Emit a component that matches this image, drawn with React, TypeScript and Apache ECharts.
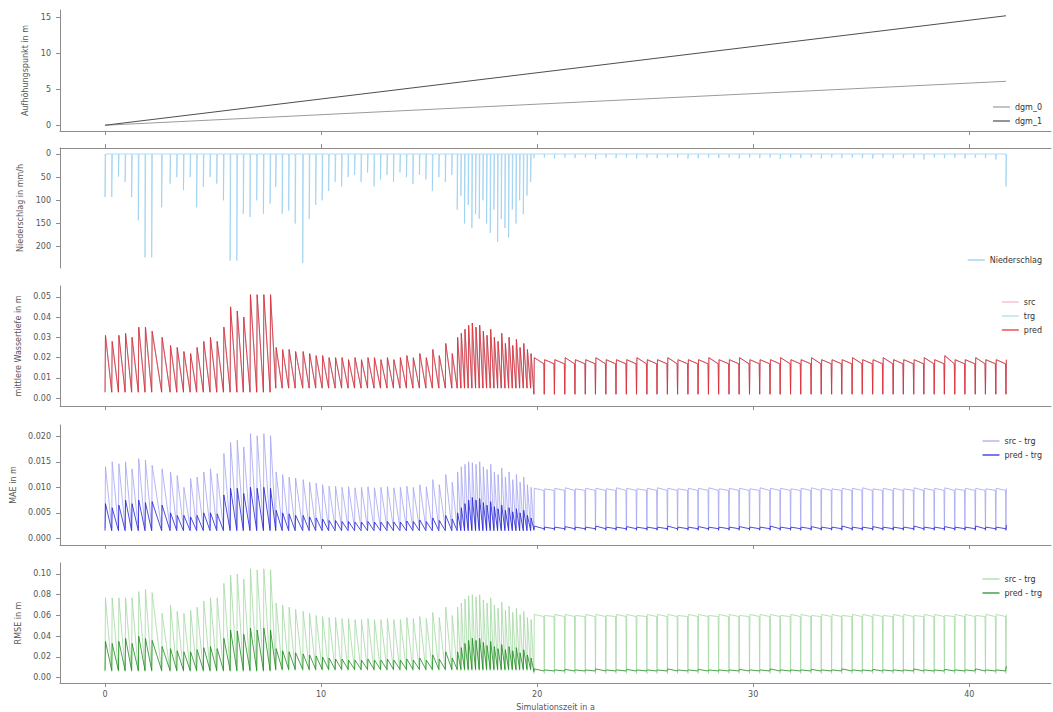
import React, { useEffect, useRef } from 'react';
import * as echarts from 'echarts';

// ---------- data ----------
const eventTimes = [
  // phase 1
  0, 0.31, 0.62, 0.93, 1.23, 1.54, 1.85, 2.16, 2.62, 3.01, 3.32, 3.63, 3.94, 4.24, 4.55, 4.86, 5.17, 5.48, 5.79, 6.1, 6.4, 6.71, 7.02, 7.33, 7.64,
  // phase 2
  7.9, 8.2, 8.5, 8.8, 9.15, 9.45, 9.75, 10.05, 10.35, 10.65, 10.95, 11.25, 11.55, 11.85, 12.15, 12.45, 12.75, 13.05, 13.35, 13.65, 13.95, 14.25, 14.55, 14.85, 15.15, 15.45, 15.75, 16.05,
  // phase 3
  16.3, 16.47, 16.64, 16.81, 16.98, 17.15, 17.32, 17.49, 17.66, 17.83, 18.0, 18.17, 18.34, 18.51, 18.68, 18.85, 19.02, 19.19, 19.36, 19.53, 19.7,
  // phase 4
  19.85, 20.33, 20.8, 21.28, 21.75, 22.23, 22.7, 23.18, 23.65, 24.13, 24.6, 25.08, 25.55, 26.03, 26.5, 26.98, 27.45, 27.93, 28.4, 28.88,
  29.35, 29.83, 30.3, 30.78, 31.25, 31.73, 32.2, 32.68, 33.15, 33.63, 34.1, 34.58, 35.05, 35.53, 36.0, 36.48, 36.95, 37.43, 37.9, 38.38,
  38.85, 39.33, 39.8, 40.28, 40.75, 41.23, 41.7,
];
const phaseStarts = [0, 7.9, 16.3, 19.85];

const dgm0 = [[0, 0], [41.7, 6.1]];
const dgm1 = [[0, 0], [41.7, 15.2]];

const rainPeak = [
  93, 93, 49, 60, 93, 143, 223, 223, 115, 64, 50, 78, 50, 115, 71, 50, 64, 100, 230, 230, 129, 136, 100, 129, 107,
  71, 129, 122, 150, 235, 140, 110, 100, 80, 60, 70, 50, 45, 60, 40, 70, 55, 45, 60, 40, 50, 65, 45, 55, 80, 50, 60, 45,
  120, 90, 150, 110, 160, 130, 140, 100, 150, 170, 120, 190, 140, 160, 180, 120, 150, 100, 130, 90, 60,
  9, 8, 10, 8, 9, 8, 11, 8, 9, 8, 10, 8, 9, 8, 8, 10, 9, 8, 9, 8,
  10, 8, 9, 8, 11, 8, 9, 8, 10, 8, 9, 8, 9, 10, 8, 9, 8, 9, 12, 8,
  9, 8, 10, 8, 9, 12, 70,
];

const depthPeak = [
  0.031, 0.028, 0.031, 0.032, 0.030, 0.035, 0.035, 0.033, 0.030, 0.026, 0.025, 0.023, 0.022, 0.025, 0.028, 0.030, 0.028, 0.035, 0.045, 0.043, 0.040, 0.051, 0.051, 0.051, 0.051,
  0.025, 0.024, 0.024, 0.023, 0.023, 0.022, 0.021, 0.021, 0.020, 0.020, 0.020, 0.019, 0.020, 0.019, 0.020, 0.020, 0.019, 0.020, 0.019, 0.020, 0.021, 0.020, 0.022, 0.020, 0.024, 0.021, 0.027, 0.022,
  0.030, 0.032, 0.034, 0.036, 0.037, 0.035, 0.036, 0.033, 0.031, 0.034, 0.030, 0.028, 0.032, 0.027, 0.030, 0.026, 0.029, 0.025, 0.027, 0.024, 0.022,
  0.020, 0.019, 0.019, 0.020, 0.019, 0.019, 0.020, 0.019, 0.019, 0.019, 0.020, 0.019, 0.019, 0.020, 0.019, 0.019, 0.019, 0.020, 0.019, 0.019,
  0.020, 0.019, 0.019, 0.019, 0.020, 0.019, 0.019, 0.020, 0.019, 0.019, 0.019, 0.020, 0.019, 0.019, 0.020, 0.019, 0.019, 0.019, 0.020, 0.019,
  0.021, 0.019, 0.019, 0.020, 0.019, 0.019, 0.019,
];
const depthLow = [0.003, 0.005, 0.005, 0.002];
const depthHold = [null, null, null, 0.017];

const maeSrcPeak = [
  0.014, 0.015, 0.0146, 0.015, 0.0136, 0.0156, 0.0153, 0.0143, 0.0136, 0.013, 0.0123, 0.010, 0.0117, 0.012, 0.013, 0.0136, 0.0127, 0.0166, 0.0188, 0.0192, 0.0179, 0.0205, 0.0201, 0.0205, 0.0201,
  0.013, 0.0125, 0.012, 0.0118, 0.0115, 0.011, 0.0108, 0.0105, 0.0102, 0.0102, 0.010, 0.0101, 0.0099, 0.010, 0.0101, 0.0099, 0.010, 0.0101, 0.0099, 0.010, 0.0102, 0.010, 0.0105, 0.0101, 0.0115, 0.0105, 0.0125, 0.011,
  0.013, 0.014, 0.0145, 0.015, 0.0148, 0.0145, 0.015, 0.014, 0.0135, 0.0145, 0.013, 0.0125, 0.0138, 0.012, 0.013, 0.0115, 0.0125, 0.011, 0.012, 0.0105, 0.010,
  0.0098, 0.0097, 0.0098, 0.0099, 0.0097, 0.0098, 0.0098, 0.0097, 0.0099, 0.0098, 0.0097, 0.0098, 0.0099, 0.0098, 0.0097, 0.0098, 0.0098, 0.0099, 0.0097, 0.0098,
  0.0098, 0.0097, 0.0099, 0.0098, 0.0098, 0.0097, 0.0098, 0.0099, 0.0098, 0.0097, 0.0098, 0.0098, 0.0099, 0.0097, 0.0098, 0.0098, 0.0097, 0.0099, 0.0098, 0.0098,
  0.0099, 0.0097, 0.0098, 0.0098, 0.0097, 0.0098, 0.0098,
];
const maeSrcLow = [0.002, 0.002, 0.002, 0.0015];
const maeSrcHold = [null, null, null, 0.0094];

const maePredPeak = [
  0.0068, 0.006, 0.0065, 0.0075, 0.0068, 0.0075, 0.007, 0.0072, 0.0065, 0.005, 0.0045, 0.0045, 0.0042, 0.0045, 0.005, 0.005, 0.0048, 0.0085, 0.0098, 0.0098, 0.0088, 0.0100, 0.0098, 0.0100, 0.0098,
  0.0055, 0.005, 0.0048, 0.0045, 0.0045, 0.0042, 0.004, 0.0038, 0.0035, 0.0035, 0.0033, 0.0033, 0.0032, 0.0032, 0.0033, 0.0032, 0.0032, 0.0033, 0.0032, 0.0032, 0.0034, 0.0033, 0.0036, 0.0033, 0.004, 0.0035, 0.0045, 0.0038,
  0.005, 0.006, 0.0068, 0.0075, 0.008, 0.0075, 0.0078, 0.007, 0.0065, 0.0072, 0.0062, 0.0058, 0.0065, 0.0055, 0.006, 0.0052, 0.0058, 0.005, 0.0055, 0.0045, 0.004,
  0.0024, 0.0022, 0.0022, 0.0023, 0.0022, 0.0022, 0.0024, 0.0022, 0.0022, 0.0023, 0.0022, 0.0022, 0.0022, 0.0024, 0.0022, 0.0022, 0.0023, 0.0022, 0.0022, 0.0022,
  0.0023, 0.0022, 0.0022, 0.0024, 0.0022, 0.0022, 0.0022, 0.0023, 0.0022, 0.0022, 0.0024, 0.0022, 0.0022, 0.0023, 0.0022, 0.0022, 0.0022, 0.0024, 0.0022, 0.0022,
  0.0023, 0.0022, 0.0022, 0.0024, 0.0022, 0.0022, 0.0026,
];
const maePredLow = [0.0015, 0.0015, 0.0015, 0.0017];
const maePredHold = [null, null, null, 0.0019];

const rmseSrcPeak = [
  0.077, 0.077, 0.077, 0.077, 0.077, 0.083, 0.085, 0.082, 0.062, 0.070, 0.064, 0.062, 0.065, 0.068, 0.074, 0.077, 0.077, 0.091, 0.099, 0.100, 0.095, 0.105, 0.104, 0.105, 0.104,
  0.072, 0.070, 0.068, 0.066, 0.064, 0.062, 0.060, 0.059, 0.058, 0.058, 0.057, 0.057, 0.056, 0.056, 0.057, 0.056, 0.056, 0.057, 0.056, 0.056, 0.058, 0.057, 0.059, 0.057, 0.063, 0.058, 0.068, 0.060,
  0.068, 0.072, 0.076, 0.079, 0.080, 0.078, 0.080, 0.075, 0.072, 0.077, 0.070, 0.067, 0.073, 0.065, 0.069, 0.063, 0.067, 0.061, 0.064, 0.058, 0.056,
  0.061, 0.060, 0.061, 0.061, 0.060, 0.061, 0.061, 0.060, 0.061, 0.061, 0.060, 0.061, 0.061, 0.061, 0.060, 0.061, 0.061, 0.060, 0.061, 0.061,
  0.060, 0.061, 0.061, 0.061, 0.060, 0.061, 0.061, 0.060, 0.061, 0.061, 0.060, 0.061, 0.061, 0.061, 0.060, 0.061, 0.061, 0.060, 0.061, 0.061,
  0.060, 0.061, 0.061, 0.060, 0.061, 0.061, 0.061,
];
const rmseSrcLow = [0.006, 0.007, 0.007, 0.004];
const rmseSrcHold = [null, null, null, 0.059];

const rmsePredPeak = [
  0.035, 0.033, 0.035, 0.038, 0.033, 0.040, 0.038, 0.036, 0.030, 0.028, 0.026, 0.025, 0.025, 0.027, 0.029, 0.030, 0.028, 0.038, 0.046, 0.045, 0.042, 0.048, 0.046, 0.048, 0.046,
  0.028, 0.026, 0.025, 0.024, 0.023, 0.022, 0.021, 0.020, 0.019, 0.018, 0.018, 0.017, 0.017, 0.017, 0.018, 0.017, 0.017, 0.018, 0.017, 0.017, 0.018, 0.017, 0.019, 0.017, 0.022, 0.018, 0.025, 0.019,
  0.025, 0.029, 0.033, 0.036, 0.038, 0.036, 0.038, 0.034, 0.031, 0.035, 0.030, 0.028, 0.032, 0.027, 0.030, 0.026, 0.029, 0.024, 0.027, 0.022, 0.019,
  0.0085, 0.0075, 0.0075, 0.008, 0.0075, 0.0075, 0.0085, 0.0075, 0.0075, 0.008, 0.0075, 0.0075, 0.0075, 0.0085, 0.0075, 0.0075, 0.008, 0.0075, 0.0075, 0.0075,
  0.008, 0.0075, 0.0075, 0.0085, 0.0075, 0.0075, 0.0075, 0.008, 0.0075, 0.0075, 0.0085, 0.0075, 0.0075, 0.008, 0.0075, 0.0075, 0.0075, 0.0085, 0.0075, 0.0075,
  0.008, 0.0075, 0.0075, 0.0085, 0.0075, 0.0075, 0.011,
];
const rmsePredLow = [0.007, 0.008, 0.008, 0.006];
const rmsePredHold = [null, null, null, 0.0065];

const xTicks = [0, 10, 20, 30, 40];
const yTicks1 = [0, 5, 10, 15];
const yTicks2 = [0, 50, 100, 150, 200];
const yTicks3 = [0, 0.01, 0.02, 0.03, 0.04, 0.05];
const yTicks4 = [0, 0.005, 0.01, 0.015, 0.02];
const yTicks5 = [0, 0.02, 0.04, 0.06, 0.08, 0.1];

// ---------- helpers ----------
function phaseOf(t: number) {
  let p = 0;
  for (let k = 0; k < phaseStarts.length; k++) if (t >= phaseStarts[k] - 1e-9) p = k;
  return p;
}
function buildPulse(peaks: number[], lows: number[], holds: (number | null)[]) {
  const pts: number[][] = [];
  const n = eventTimes.length;
  for (let i = 0; i < n; i++) {
    const t = eventTimes[i];
    const ph = phaseOf(t);
    pts.push([t, lows[ph]]);
    pts.push([t + 0.02, peaks[i]]);
    const h = holds[ph];
    if (h !== null && i < n - 1) pts.push([eventTimes[i + 1] - 0.02, h]);
  }
  return pts;
}
function buildRain(peaks: number[]) {
  const pts: number[][] = [];
  for (let i = 0; i < eventTimes.length; i++) {
    const t = eventTimes[i];
    pts.push([t, 0], [t, peaks[i]], [t + 0.03, 0]);
  }
  return pts;
}

const FONT = 'DejaVu Sans';
const AXIS_COLOR = '#8c8c8c';
const TEXT_COLOR = '#555';

const gridTops = [10, 148, 286, 425, 563];
const gridHeights = [121, 120, 120, 120, 120];

const displayName: Record<string, string> = {
  dgm_0: 'dgm_0',
  dgm_1: 'dgm_1',
  Niederschlag: 'Niederschlag',
  src: 'src',
  trg: 'trg',
  pred: 'pred',
  mae_src: 'src - trg',
  mae_pred: 'pred - trg',
  rmse_src: 'src - trg',
  rmse_pred: 'pred - trg',
};

export default function App() {
  const ref = useRef<HTMLDivElement>(null);
  useEffect(() => {
    const chart = echarts.init(ref.current!, null, { renderer: 'svg' });

    const grids = gridTops.map((top, i) => ({ left: 60, right: 2, top, height: gridHeights[i] }));

    const xAxes = gridTops.map((_, i) => ({
      type: 'value',
      gridIndex: i,
      min: -2.085,
      max: 43.785,
      position: i === 1 ? 'top' : 'bottom',
      axisLine: { show: true, onZero: false, lineStyle: { color: AXIS_COLOR, width: 1 } },
      axisTick: { show: true, length: 4, customValues: xTicks, lineStyle: { color: AXIS_COLOR } },
      axisLabel: {
        show: i === 4,
        customValues: xTicks,
        margin: 7,
        fontSize: 8,
        color: TEXT_COLOR,
        fontFamily: FONT,
      },
      splitLine: { show: false },
      name: i === 4 ? 'Simulationszeit in a' : '',
      nameLocation: 'middle',
      nameGap: 20,
      nameTextStyle: { fontSize: 8, color: TEXT_COLOR, fontFamily: FONT },
    }));

    const yDefs = [
      { min: -0.8, max: 16, ticks: yTicks1, dec: 0, name: 'Aufhöhungspunkt in m', inverse: false },
      { min: -12.9, max: 246, ticks: yTicks2, dec: 0, name: 'Niederschlag in mm/h', inverse: true },
      { min: -0.0038, max: 0.0553, ticks: yTicks3, dec: 2, name: 'mittlere Wassertiefe in m', inverse: false },
      { min: -0.0013, max: 0.0222, ticks: yTicks4, dec: 3, name: 'MAE in m', inverse: false },
      { min: -0.0051, max: 0.1106, ticks: yTicks5, dec: 2, name: 'RMSE in m', inverse: false },
    ];
    const yAxes = yDefs.map((d, i) => ({
      type: 'value',
      gridIndex: i,
      min: d.min,
      max: d.max,
      inverse: d.inverse,
      axisLine: { show: true, onZero: false, lineStyle: { color: AXIS_COLOR, width: 1 } },
      axisTick: { show: true, length: 4, customValues: d.ticks, lineStyle: { color: AXIS_COLOR } },
      axisLabel: {
        customValues: d.ticks,
        margin: 9,
        fontSize: 8,
        color: TEXT_COLOR,
        fontFamily: FONT,
        formatter: (v: number) => v.toFixed(d.dec),
      },
      splitLine: { show: false },
      name: d.name,
      nameLocation: 'middle',
      nameRotate: 90,
      nameGap: 24,
      nameTextStyle: { fontSize: 8, color: TEXT_COLOR, fontFamily: FONT },
    }));

    const line = (name: string, idx: number, data: number[][], color: string, width = 0.8) => ({
      type: 'line',
      name,
      xAxisIndex: idx,
      yAxisIndex: idx,
      data,
      showSymbol: false,
      symbol: 'none',
      silent: true,
      lineStyle: { color, width },
      itemStyle: { color },
    });

    const depthSeries = buildPulse(depthPeak, depthLow, depthHold);

    const series = [
      line('dgm_0', 0, dgm0, '#9a9a9a', 1),
      line('dgm_1', 0, dgm1, '#4d4d4d', 1),
      line('Niederschlag', 1, buildRain(rainPeak), '#93cdef', 0.7),
      line('src', 2, depthSeries, '#f5b3bf', 0.8),
      line('trg', 2, depthSeries, '#a9dbe8', 0.8),
      line('pred', 2, depthSeries, '#e4252d', 0.8),
      line('mae_src', 3, buildPulse(maeSrcPeak, maeSrcLow, maeSrcHold), '#a4a4f2', 0.8),
      line('mae_pred', 3, buildPulse(maePredPeak, maePredLow, maePredHold), '#2020d6', 0.8),
      line('rmse_src', 4, buildPulse(rmseSrcPeak, rmseSrcLow, rmseSrcHold), '#a3d8a3', 0.8),
      line('rmse_pred', 4, buildPulse(rmsePredPeak, rmsePredLow, rmsePredHold), '#1c8a1c', 0.8),
    ];

    const legend = (data: string[], top: number) => ({
      data: data.map((n) => ({ name: n, icon: 'rect' })),
      top,
      right: 6,
      orient: 'vertical',
      itemWidth: 17,
      itemHeight: 1.2,
      itemGap: 4,
      selectedMode: false,
      formatter: (n: string) => displayName[n] || n,
      textStyle: { fontSize: 8, color: '#333', fontFamily: FONT, lineHeight: 10 },
    });

    chart.setOption({
      animation: false,
      backgroundColor: '#ffffff',
      grid: grids,
      xAxis: xAxes,
      yAxis: yAxes,
      legend: [
        legend(['dgm_0', 'dgm_1'], 97),
        legend(['Niederschlag'], 250),
        legend(['src', 'trg', 'pred'], 292),
        legend(['mae_src', 'mae_pred'], 431),
        legend(['rmse_src', 'rmse_pred'], 569),
      ],
      series,
    });
    return () => chart.dispose();
  }, []);
  return <div ref={ref} style={{ position: 'absolute', left: 0, top: 0, width: 1053, height: 712 }} />;
}
